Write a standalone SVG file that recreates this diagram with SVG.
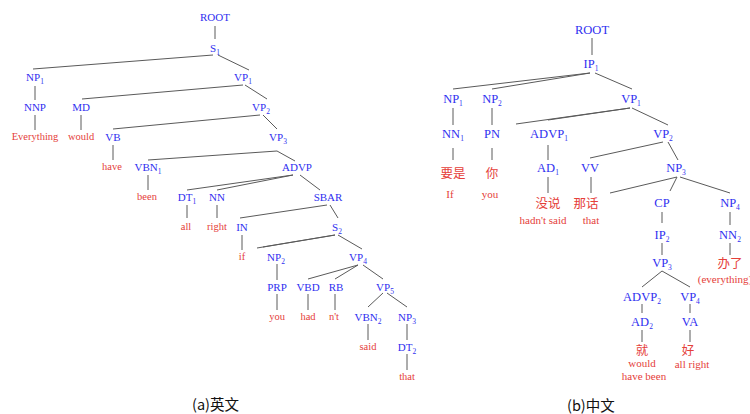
<svg xmlns="http://www.w3.org/2000/svg" width="750" height="414" viewBox="0 0 750 414">
<style>
text{font-family:"Liberation Serif","Times New Roman",serif;text-anchor:middle}
.l{fill:#2f2ff0;font-size:11px}
.r{fill:#2f2ff0;font-size:12.5px}
.wl{fill:#e5403a;font-size:10.5px}
.wr{fill:#e5403a;font-size:11px}
.zh{fill:#e5403a;font-size:12.5px;font-family:"Noto Sans CJK SC","Noto Sans CJK JP",sans-serif}
.s{font-size:7.5px}
.cap{fill:#111;font-size:14.5px;font-family:"Noto Sans CJK SC","Noto Sans",sans-serif;text-anchor:start}
#edges line{stroke:#5a5a5a;stroke-width:1}
</style>
<rect width="750" height="414" fill="#fff"/>
<g id="edges">
<line x1="215" y1="26" x2="215" y2="39"/>
<line x1="213" y1="55" x2="33" y2="69"/>
<line x1="218" y1="55" x2="249" y2="70"/>
<line x1="35" y1="86" x2="35" y2="100"/>
<line x1="243" y1="85" x2="82" y2="99"/>
<line x1="245" y1="85" x2="267" y2="99"/>
<line x1="35" y1="115" x2="35" y2="130"/>
<line x1="81" y1="115" x2="81" y2="130"/>
<line x1="260" y1="115" x2="113" y2="129"/>
<line x1="263" y1="115" x2="277" y2="129"/>
<line x1="113" y1="145" x2="113" y2="160"/>
<line x1="277" y1="151" x2="148" y2="160"/>
<line x1="277" y1="151" x2="295" y2="161"/>
<line x1="148" y1="175" x2="148" y2="190"/>
<line x1="293" y1="175" x2="187" y2="190"/>
<line x1="293" y1="175" x2="217" y2="190"/>
<line x1="300" y1="175" x2="320" y2="190"/>
<line x1="187" y1="205" x2="187" y2="218"/>
<line x1="217" y1="205" x2="217" y2="218"/>
<line x1="327" y1="205" x2="240" y2="218"/>
<line x1="330" y1="205" x2="338" y2="218"/>
<line x1="242" y1="235" x2="242" y2="250"/>
<line x1="335" y1="235" x2="257" y2="248"/>
<line x1="335" y1="235" x2="263" y2="247"/>
<line x1="338" y1="235" x2="362" y2="249"/>
<line x1="277" y1="264" x2="277" y2="280"/>
<line x1="358" y1="265" x2="308" y2="279"/>
<line x1="358" y1="265" x2="335" y2="279"/>
<line x1="363" y1="265" x2="383" y2="279"/>
<line x1="277" y1="294" x2="277" y2="310"/>
<line x1="308" y1="294" x2="308" y2="310"/>
<line x1="335" y1="294" x2="335" y2="310"/>
<line x1="383" y1="293" x2="368" y2="307"/>
<line x1="387" y1="293" x2="407" y2="307"/>
<line x1="368" y1="324" x2="368" y2="340"/>
<line x1="407" y1="324" x2="407" y2="340"/>
<line x1="407" y1="354" x2="407" y2="370"/>
<line x1="592" y1="38" x2="592" y2="55"/>
<line x1="590" y1="73" x2="453" y2="89"/>
<line x1="590" y1="73" x2="492" y2="89"/>
<line x1="595" y1="73" x2="632" y2="89"/>
<line x1="453" y1="108" x2="453" y2="125"/>
<line x1="492" y1="108" x2="492" y2="125"/>
<line x1="630" y1="108" x2="516" y2="124"/>
<line x1="630" y1="108" x2="548" y2="120"/>
<line x1="632" y1="108" x2="668" y2="125"/>
<line x1="453" y1="148" x2="453" y2="160"/>
<line x1="492" y1="148" x2="492" y2="160"/>
<line x1="548" y1="145" x2="548" y2="160"/>
<line x1="663" y1="142" x2="590" y2="158"/>
<line x1="668" y1="142" x2="678" y2="160"/>
<line x1="548" y1="177" x2="548" y2="193"/>
<line x1="591" y1="177" x2="591" y2="193"/>
<line x1="677" y1="177" x2="610" y2="193"/>
<line x1="677" y1="177" x2="670" y2="191"/>
<line x1="680" y1="177" x2="730" y2="193"/>
<line x1="662" y1="212" x2="662" y2="223"/>
<line x1="730" y1="212" x2="730" y2="225"/>
<line x1="662" y1="243" x2="662" y2="255"/>
<line x1="730" y1="243" x2="730" y2="255"/>
<line x1="662" y1="271" x2="642" y2="287"/>
<line x1="662" y1="271" x2="690" y2="287"/>
<line x1="642" y1="304" x2="642" y2="313"/>
<line x1="690" y1="304" x2="690" y2="313"/>
<line x1="642" y1="330" x2="642" y2="342"/>
<line x1="690" y1="330" x2="690" y2="342"/>
</g>
<g id="tree-en">
<g id="en-root"><text class="l" x="215" y="21">ROOT</text></g>
<g id="en-s1"><text class="l" x="215" y="52">S<tspan class="s" dy="3">1</tspan></text></g>
<g id="en-np1"><text class="l" x="35" y="81">NP<tspan class="s" dy="3">1</tspan></text></g>
<g id="en-vp1"><text class="l" x="243" y="81">VP<tspan class="s" dy="3">1</tspan></text></g>
<g id="en-nnp"><text class="l" x="35" y="111">NNP</text></g>
<g id="en-md"><text class="l" x="81" y="111">MD</text></g>
<g id="en-vp2"><text class="l" x="261" y="111">VP<tspan class="s" dy="3">2</tspan></text></g>
<g id="en-everything"><text class="wl" x="35" y="140">Everything</text></g>
<g id="en-would"><text class="wl" x="81" y="140">would</text></g>
<g id="en-vb"><text class="l" x="113" y="141">VB</text></g>
<g id="en-vp3"><text class="l" x="278" y="141">VP<tspan class="s" dy="3">3</tspan></text></g>
<g id="en-have"><text class="wl" x="112" y="170">have</text></g>
<g id="en-vbn1"><text class="l" x="148" y="171">VBN<tspan class="s" dy="3">1</tspan></text></g>
<g id="en-advp"><text class="l" x="297" y="171">ADVP</text></g>
<g id="en-been"><text class="wl" x="147" y="200">been</text></g>
<g id="en-dt1"><text class="l" x="187" y="201">DT<tspan class="s" dy="3">1</tspan></text></g>
<g id="en-nn"><text class="l" x="217" y="201">NN</text></g>
<g id="en-sbar"><text class="l" x="328" y="201">SBAR</text></g>
<g id="en-all"><text class="wl" x="186" y="230">all</text></g>
<g id="en-right"><text class="wl" x="217" y="230">right</text></g>
<g id="en-in"><text class="l" x="242" y="231">IN</text></g>
<g id="en-s2"><text class="l" x="337" y="231">S<tspan class="s" dy="3">2</tspan></text></g>
<g id="en-if"><text class="wl" x="242" y="260">if</text></g>
<g id="en-np2"><text class="l" x="276" y="261">NP<tspan class="s" dy="3">2</tspan></text></g>
<g id="en-vp4"><text class="l" x="358" y="261">VP<tspan class="s" dy="3">4</tspan></text></g>
<g id="en-prp"><text class="l" x="277" y="291">PRP</text></g>
<g id="en-vbd"><text class="l" x="308" y="291">VBD</text></g>
<g id="en-rb"><text class="l" x="336" y="291">RB</text></g>
<g id="en-vp5"><text class="l" x="385" y="291">VP<tspan class="s" dy="3">5</tspan></text></g>
<g id="en-you"><text class="wl" x="277" y="320">you</text></g>
<g id="en-had"><text class="wl" x="308" y="320">had</text></g>
<g id="en-nt"><text class="wl" x="334" y="320">n't</text></g>
<g id="en-vbn2"><text class="l" x="368" y="321">VBN<tspan class="s" dy="3">2</tspan></text></g>
<g id="en-np3"><text class="l" x="407" y="321">NP<tspan class="s" dy="3">3</tspan></text></g>
<g id="en-said"><text class="wl" x="368" y="350">said</text></g>
<g id="en-dt2"><text class="l" x="407" y="351">DT<tspan class="s" dy="3">2</tspan></text></g>
<g id="en-that"><text class="wl" x="407" y="380">that</text></g>
<g id="cap-a"><text class="cap" x="192" y="410">(a)英文</text></g>
</g>
<g id="tree-zh">
<g id="zh-root"><text class="r" x="592" y="34">ROOT</text></g>
<g id="zh-ip1"><text class="r" x="591" y="68">IP<tspan class="s" dy="3">1</tspan></text></g>
<g id="zh-np1"><text class="r" x="453" y="103">NP<tspan class="s" dy="3">1</tspan></text></g>
<g id="zh-np2"><text class="r" x="492" y="103">NP<tspan class="s" dy="3">2</tspan></text></g>
<g id="zh-vp1"><text class="r" x="631" y="103">VP<tspan class="s" dy="3">1</tspan></text></g>
<g id="zh-nn1"><text class="r" x="453" y="138">NN<tspan class="s" dy="3">1</tspan></text></g>
<g id="zh-pn"><text class="r" x="492" y="138">PN</text></g>
<g id="zh-advp1"><text class="r" x="549" y="138">ADVP<tspan class="s" dy="3">1</tspan></text></g>
<g id="zh-vp2"><text class="r" x="663" y="138">VP<tspan class="s" dy="3">2</tspan></text></g>
<g id="zh-yaoshi"><text class="zh" x="453" y="178">要是</text></g>
<g id="zh-ni"><text class="zh" x="492" y="178">你</text></g>
<g id="zh-if"><text class="wr" x="450" y="198">If</text></g>
<g id="zh-you"><text class="wr" x="490" y="198">you</text></g>
<g id="zh-ad1"><text class="r" x="548" y="172">AD<tspan class="s" dy="3">1</tspan></text></g>
<g id="zh-vv"><text class="r" x="590" y="172">VV</text></g>
<g id="zh-np3"><text class="r" x="676" y="172">NP<tspan class="s" dy="3">3</tspan></text></g>
<g id="zh-meishuo"><text class="zh" x="548" y="208">没说</text></g>
<g id="zh-nahua"><text class="zh" x="586" y="208">那话</text></g>
<g id="zh-hadnt"><text class="wr" x="543" y="224">hadn't said</text></g>
<g id="zh-that"><text class="wr" x="591" y="224">that</text></g>
<g id="zh-cp"><text class="r" x="662" y="207">CP</text></g>
<g id="zh-np4"><text class="r" x="730" y="207">NP<tspan class="s" dy="3">4</tspan></text></g>
<g id="zh-ip2"><text class="r" x="662" y="239">IP<tspan class="s" dy="3">2</tspan></text></g>
<g id="zh-nn2"><text class="r" x="730" y="239">NN<tspan class="s" dy="3">2</tspan></text></g>
<g id="zh-vp3"><text class="r" x="662" y="267">VP<tspan class="s" dy="3">3</tspan></text></g>
<g id="zh-banle"><text class="zh" x="730" y="268">办了</text></g>
<g id="zh-everything"><text class="wr" x="725" y="283">(everything)</text></g>
<g id="zh-advp2"><text class="r" x="642" y="301">ADVP<tspan class="s" dy="3">2</tspan></text></g>
<g id="zh-vp4"><text class="r" x="690" y="301">VP<tspan class="s" dy="3">4</tspan></text></g>
<g id="zh-ad2"><text class="r" x="642" y="326">AD<tspan class="s" dy="3">2</tspan></text></g>
<g id="zh-va"><text class="r" x="690" y="326">VA</text></g>
<g id="zh-jiu"><text class="zh" x="642" y="355">就</text></g>
<g id="zh-hao"><text class="zh" x="688" y="355">好</text></g>
<g id="zh-would"><text class="wr" x="642" y="367">would</text><text class="wr" x="644" y="380">have been</text></g>
<g id="zh-allright"><text class="wr" x="692" y="368">all right</text></g>
<g id="cap-b"><text class="cap" x="567" y="411">(b)中文</text></g>
</g>
</svg>
